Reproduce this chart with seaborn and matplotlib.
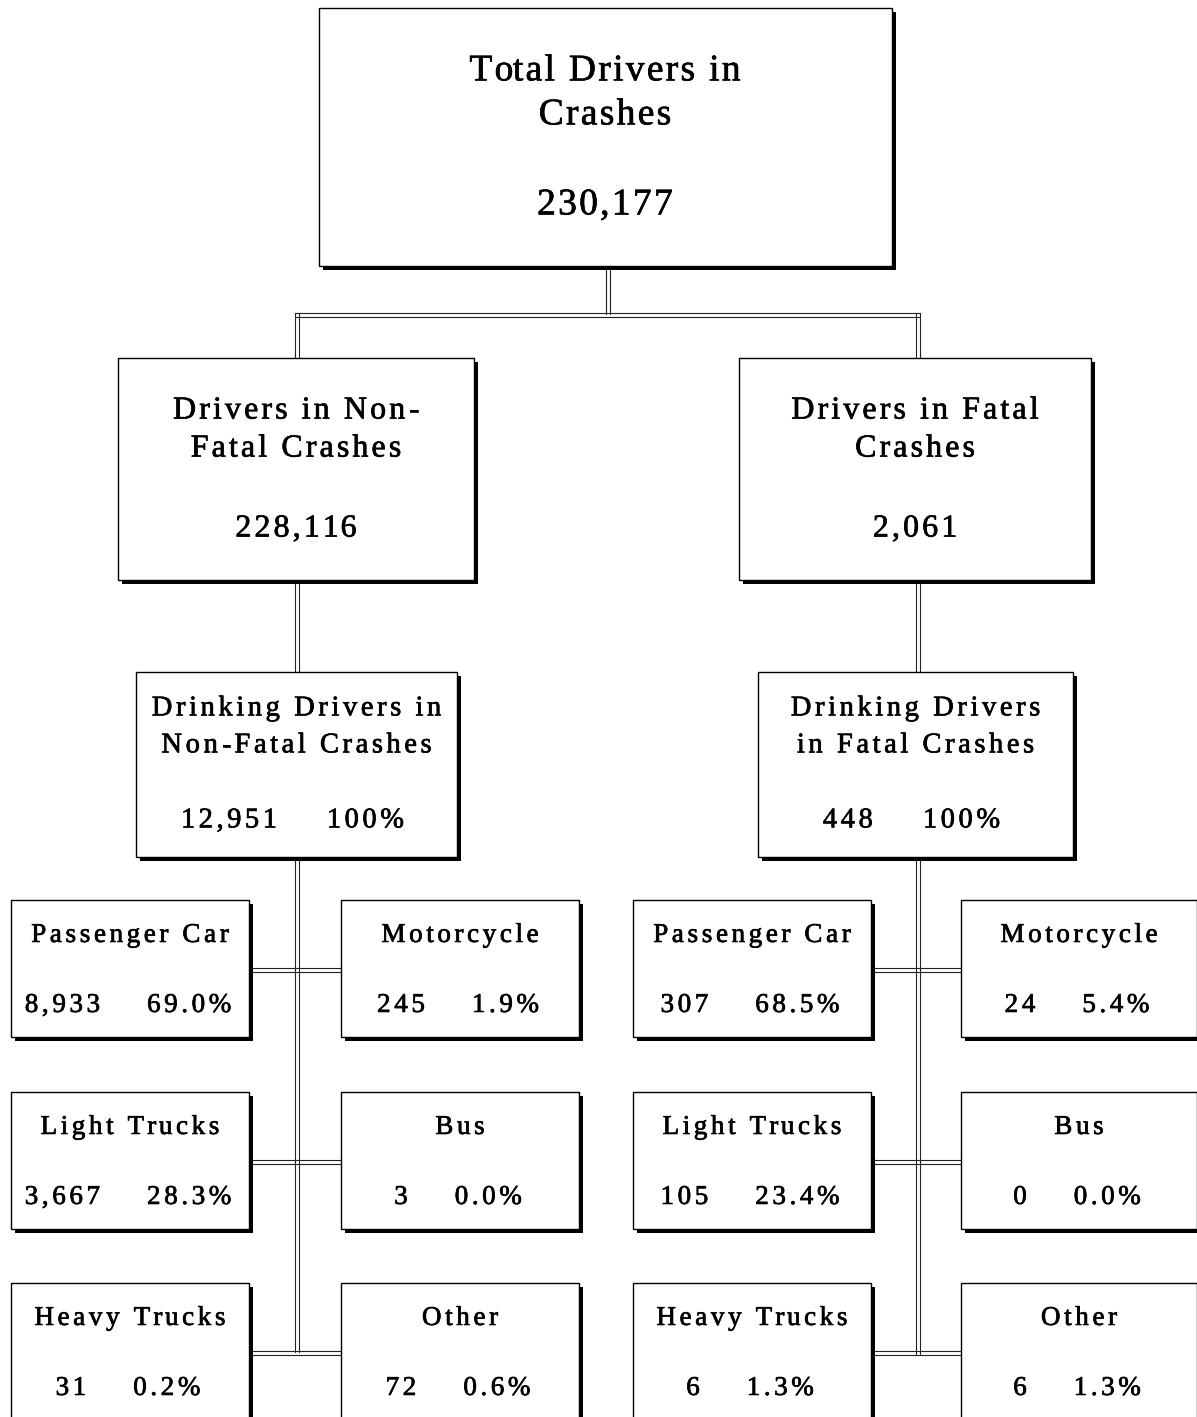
import matplotlib.pyplot as plt
import matplotlib.patches as mpatches
import matplotlib.patheffects as pe
from matplotlib.font_manager import FontProperties
import seaborn as sns

# ---- data ----
top_title = ["Total Drivers in", "Crashes"]
top_total = "230,177"

mid_titles = [["Drivers in Non-", "Fatal Crashes"], ["Drivers in Fatal", "Crashes"]]
mid_totals = ["228,116", "2,061"]

drink_titles = [["Drinking Drivers in", "Non-Fatal Crashes"], ["Drinking Drivers", "in Fatal Crashes"]]
drink_counts = ["12,951", "448"]
drink_pcts = ["100%", "100%"]

vehicle_types = ["Passenger Car", "Motorcycle", "Light Trucks", "Bus", "Heavy Trucks", "Other"]
nonfatal_counts = ["8,933", "245", "3,667", "3", "31", "72"]
nonfatal_pcts = ["69.0%", "1.9%", "28.3%", "0.0%", "0.2%", "0.6%"]
fatal_counts = ["307", "24", "105", "0", "6", "6"]
fatal_pcts = ["68.5%", "5.4%", "23.4%", "0.0%", "1.3%", "1.3%"]

sns.set_style("white")
plt.rcParams['font.family'] = ['Liberation Serif', 'DejaVu Serif']

W, H = 1197, 1417
fig = plt.figure(figsize=(W / 100, H / 100), dpi=100)
ax = fig.add_axes([0, 0, 1, 1])
ax.set_xlim(0, W)
ax.set_ylim(H, 0)
ax.axis("off")
renderer = fig.canvas.get_renderer()
effects = [pe.withStroke(linewidth=0.5, foreground="black")]


def box(x0, y0, x1, y1):
    sh = 4
    ax.add_patch(mpatches.Rectangle((x0 + sh, y0 + sh), x1 - x0, y1 - y0,
                                    facecolor="black", edgecolor="none", zorder=3))
    ax.add_patch(mpatches.Rectangle((x0, y0), x1 - x0, y1 - y0,
                                    facecolor="white", edgecolor="black", lw=1.0, zorder=4))


def dline(x0, y0, x1, y1, gap=4):
    # double connector line
    if x0 == x1:
        for dx in (0, gap):
            ax.plot([x0 + dx, x1 + dx], [y0, y1], color="#222222", lw=0.8, zorder=2)
    else:
        for dy in (0, gap):
            ax.plot([x0, x1], [y0 + dy, y1 + dy], color="#222222", lw=0.8, zorder=2)


def measure(s, fp):
    return renderer.get_text_width_height_descent(s, fp, ismath=False)[0]


def tracked(x, cy, s, size, track, ha="center", draw=True):
    # letter-spaced text, one glyph at a time on a common baseline
    fp = FontProperties(family="Liberation Serif", size=size)
    bar = measure("|", fp)
    pos = [0.0] + [measure(s[:i] + "|", fp) - bar for i in range(1, len(s))]
    total = measure(s, fp) + track * (len(s) - 1)
    if not draw:
        return total
    x0 = x - total / 2 if ha == "center" else x
    base = cy + 0.33 * size * 100 / 72
    for i, ch in enumerate(s):
        if ch == " ":
            continue
        ax.text(x0 + pos[i] + i * track, base, ch, ha="left", va="baseline",
                fontproperties=fp, color="black", zorder=5, path_effects=effects)
    return total


def pair(cx, cy, a, b, size, track, gap):
    wa = tracked(0, 0, a, size, track, draw=False)
    wb = tracked(0, 0, b, size, track, draw=False)
    start = cx - (wa + gap + wb) / 2
    tracked(start, cy, a, size, track, ha="left")
    tracked(start + wa + gap, cy, b, size, track, ha="left")


# connectors
dline(606, 266, 606, 314)
dline(295, 313, 920, 313)
dline(295, 313, 295, 360)
dline(916, 313, 916, 360)
dline(295, 580, 295, 672)
dline(916, 580, 916, 674)
dline(295, 857, 295, 1352)
dline(916, 857, 916, 1354)
row_y = [900, 1092, 1283]
row_h = 137
for ry in row_y:
    cy = ry + 68
    dline(249, cy, 341, cy)
    dline(871, cy, 961, cy)

# top box
box(319, 8, 892, 266)
tracked(605, 68, top_title[0], 27, 2.3)
tracked(605, 112, top_title[1], 27, 2.3)
tracked(605, 202, top_total, 27, 2.3)

# middle boxes
mid_x = [(118, 474), (739, 1091)]
for (x0, x1), t, n in zip(mid_x, mid_titles, mid_totals):
    box(x0, 358, x1, 580)
    cx = (x0 + x1) / 2
    tracked(cx, 408, t[0], 23, 3.1)
    tracked(cx, 446, t[1], 23, 3.1)
    tracked(cx, 526, n, 23, 3.1)

# drinking boxes
drink_x = [(136, 457), (758, 1073)]
for (x0, x1), t, c, p in zip(drink_x, drink_titles, drink_counts, drink_pcts):
    box(x0, 672, x1, 857)
    cx = (x0 + x1) / 2
    tracked(cx, 706, t[0], 20.5, 3.6)
    tracked(cx, 743, t[1], 20.5, 3.6)
    pair(cx - 4, 818, c, p, 20.5, 3.6, 50)

# vehicle boxes
col_x = [[(11, 249), (341, 579)], [(633, 871), (961, 1197)]]
for side, (counts, pcts) in enumerate([(nonfatal_counts, nonfatal_pcts),
                                       (fatal_counts, fatal_pcts)]):
    for i, vt in enumerate(vehicle_types):
        x0, x1 = col_x[side][i % 2]
        y0 = row_y[i // 2]
        box(x0, y0, x1, y0 + row_h)
        cx = (x0 + x1) / 2
        tracked(cx, y0 + 33, vt, 19.5, 3.6)
        pair(cx - 2, y0 + 103, counts[i], pcts[i], 19.5, 3.6, 47)

fig.savefig("out.png", dpi=100)
